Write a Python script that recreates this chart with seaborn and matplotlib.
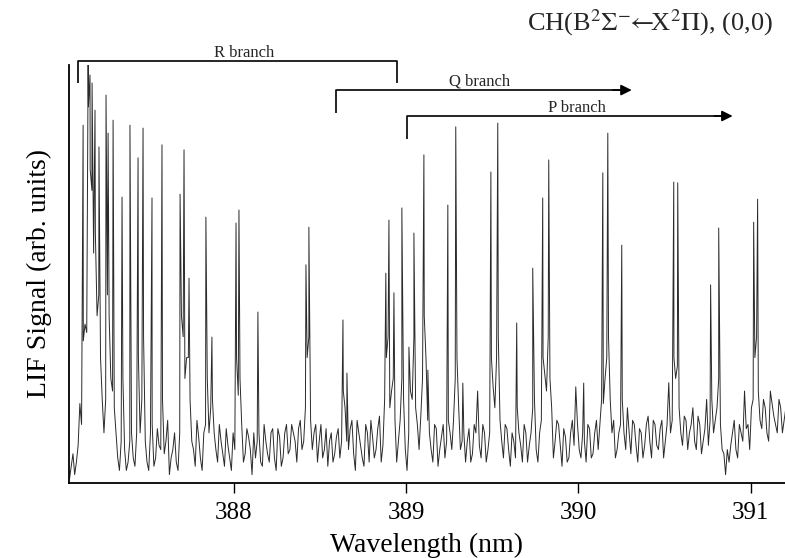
import numpy as np
import pandas as pd
import matplotlib
matplotlib.use("Agg")
import matplotlib.pyplot as plt
import seaborn as sns

# ---- data (wavelength in nm, LIF signal in arb. units) ----
peak_wl = [387.124, 387.153, 387.164, 387.176, 387.193, 387.216, 387.257, 387.269,
           387.298, 387.350, 387.396, 387.443, 387.472, 387.524, 387.582, 387.687,
           387.710, 387.739, 387.837, 387.872, 388.012, 388.029, 388.139, 388.418,
           388.435, 388.633, 388.656, 388.882, 388.900, 388.929, 388.975, 389.016,
           389.045, 389.103, 389.126, 389.242, 389.288, 389.329, 389.492, 389.532,
           389.642, 389.735, 389.793, 389.828, 390.031, 390.142, 390.171, 390.252,
           390.554, 390.577, 390.768, 390.815, 391.018, 391.041]
peak_int = [85.6, 100.0, 97.6, 95.7, 89.2, 80.4, 92.8, 83.7,
            86.8, 68.4, 85.6, 77.8, 84.9, 68.2, 80.9, 69.1,
            79.7, 49.0, 63.6, 34.9, 62.2, 65.3, 40.9, 52.2,
            61.2, 39.0, 26.3, 50.2, 62.9, 45.5, 65.8, 32.5,
            59.8, 78.5, 27.0, 66.5, 85.2, 23.9, 74.4, 86.1,
            38.3, 51.4, 68.2, 77.3, 23.9, 74.2, 83.7, 56.9,
            72.0, 71.8, 47.4, 61.0, 62.4, 67.9]

# baseline / valley readings every 0.02 nm from 387.045 nm ...
base_start = 387.045
base_step = 0.02
base_int = [1, 7, 5, 19, 34, 36, 75, 55, 40, 30,
            12, 45, 25, 18, 6, 10, 8, 5, 12, 4,
            30, 20, 10, 3, 14, 6, 9, 20, 10, 2,
            8, 5, 12, 35, 30, 20, 8, 15, 6, 12,
            25, 18, 12, 5, 10, 4, 9, 3, 8, 21,
            14, 7, 11, 2, 6, 12, 4, 10, 5, 13,
            3, 11, 6, 14, 8, 12, 5, 15, 10, 30,
            15, 12, 5, 14, 8, 4, 12, 7, 13, 10,
            18, 8, 15, 3, 12, 6, 14, 5, 11, 8,
            16, 9, 30, 18, 25, 5, 15, 20, 3, 22,
            35, 14, 16, 40, 15, 8, 14, 4, 11, 6,
            15, 8, 25, 18, 10, 5, 13, 7, 12, 9,
            14, 5, 12, 23, 30, 15, 6, 13, 4, 10,
            18, 9, 14, 5, 12, 20, 5, 15, 26, 35,
            18, 10, 14, 4, 11, 6, 15, 23, 8, 12,
            5, 13, 7, 15, 14, 19, 30, 20, 15, 8,
            14, 12, 18, 7, 14, 5, 12, 9, 16, 6,
            14, 8, 15, 10, 24, 15, 25, 18, 9, 15,
            12, 18, 8, 14, 10, 20, 15, 12, 18, 14,
            7, 8, 9, 15, 6, 12, 22, 14, 18, 30,
            22, 13, 18, 10, 19, 14, 20, 12, 18]
# ... and the readings half-way between them (387.055 nm onwards)
mid_int = [4, 2, 9, 14, 38, 90, 70, 60, 45, 20,
           20, 40, 22, 12, 3, 25, 3, 10, 6, 12,
           12, 35, 5, 12, 4, 13, 8, 7, 15, 6,
           12, 3, 40, 25, 30, 10, 4, 11, 3, 14,
           12, 20, 8, 14, 7, 13, 6, 12, 30, 25,
           5, 13, 8, 12, 10, 5, 14, 7, 12, 6,
           13, 4, 12, 7, 14, 10, 13, 8, 18, 35,
           8, 14, 10, 6, 13, 10, 5, 11, 6, 22,
           10, 13, 7, 15, 9, 4, 12, 15, 6, 13,
           5, 20, 35, 22, 15, 10, 25, 8, 12, 20,
           18, 8, 25, 30, 12, 5, 13, 8, 14, 10,
           12, 15, 30, 8, 12, 10, 5, 14, 22, 6,
           12, 8, 30, 18, 35, 10, 14, 8, 12, 6,
           12, 5, 12, 9, 18, 8, 12, 30, 22, 25,
           6, 15, 9, 13, 5, 12, 9, 14, 6, 10,
           14, 6, 12, 8, 20, 25, 35, 12, 6, 12,
           20, 8, 12, 15, 9, 13, 6, 14, 10, 15,
           9, 13, 6, 14, 12, 30, 28, 12, 16, 8,
           14, 10, 16, 7, 13, 9, 20, 15, 25, 8,
           2, 5, 12, 8, 14, 10, 13, 8, 20, 35,
           15, 20, 12, 22, 16, 12, 18, 15]

xticks = [388, 389, 390, 391]

# ---- build the spectrum table ----
base_wl = base_start + base_step * np.arange(len(base_int))
mid_wl = base_start + base_step / 2 + base_step * np.arange(len(mid_int))
wl = np.concatenate([base_wl, mid_wl, np.array(peak_wl)])
sig = np.concatenate([np.array(base_int, float), np.array(mid_int, float),
                      np.array(peak_int)])
order = np.argsort(wl, kind="stable")
df = pd.DataFrame({"Wavelength": wl[order], "Signal": sig[order]})

# ---- style ----
sns.set_theme(style="ticks")
plt.rcParams["font.family"] = ["Liberation Serif", "DejaVu Serif"]
plt.rcParams["mathtext.fontset"] = "stix"

W, H = 785, 558
fig = plt.figure(figsize=(W / 100, H / 100), dpi=100)
ax = fig.add_axes([69 / W, (H - 483) / H, 1 - 69 / W, (483 - 65) / H])

sns.lineplot(data=df, x="Wavelength", y="Signal", estimator=None, sort=False,
             color="#2a2a2a", linewidth=0.7, ax=ax)

ax.set_xlim(387.042, 391.2)
ax.set_ylim(0, 100)
ax.set_xticks(xticks)
ax.set_xticklabels([str(t) for t in xticks])
ax.set_yticks([])
for s in ["top", "right"]:
    ax.spines[s].set_visible(False)
for s in ["left", "bottom"]:
    ax.spines[s].set_linewidth(1.3)
    ax.spines[s].set_color("black")
ax.tick_params(axis="x", direction="out", length=7, width=1.0, labelsize=18,
               colors="black", pad=7)
ax.set_xlabel("Wavelength (nm)", fontsize=20, labelpad=6, color="black")
ax.set_ylabel("LIF Signal (arb. units)", fontsize=20, labelpad=12, color="black")

# ---- branch brackets ----
lk = dict(color="black", lw=1.2, clip_on=False, solid_capstyle="butt")
ax.plot([387.095, 387.095, 388.946, 388.946], [95.7, 101.0, 101.0, 95.7], **lk)
ax.text(388.058, 101.9, "R branch", ha="center", va="baseline", fontsize=12)

ax.plot([388.592, 388.592, 390.25], [88.5, 94.0, 94.0], **lk)
ax.annotate("", xy=(390.310, 94.0), xytext=(390.20, 94.0), annotation_clip=False,
            arrowprops=dict(arrowstyle="-|>", color="black", lw=1.2,
                            mutation_scale=16, shrinkA=0, shrinkB=0))
ax.text(389.428, 95.2, "Q branch", ha="center", va="baseline", fontsize=12)

ax.plot([389.004, 389.004, 390.84], [82.3, 87.8, 87.8], **lk)
ax.annotate("", xy=(390.896, 87.8), xytext=(390.79, 87.8), annotation_clip=False,
            arrowprops=dict(arrowstyle="-|>", color="black", lw=1.2,
                            mutation_scale=16, shrinkA=0, shrinkB=0))
ax.text(389.991, 88.8, "P branch", ha="center", va="baseline", fontsize=12)

fig.text(773 / W, 1 - 30 / H,
         r"CH(B$^2\Sigma^{-}\!\!\leftarrow\!\!$X$^2\Pi$), (0,0)",
         ha="right", va="baseline", fontsize=19)

fig.savefig("out.png", dpi=100)
